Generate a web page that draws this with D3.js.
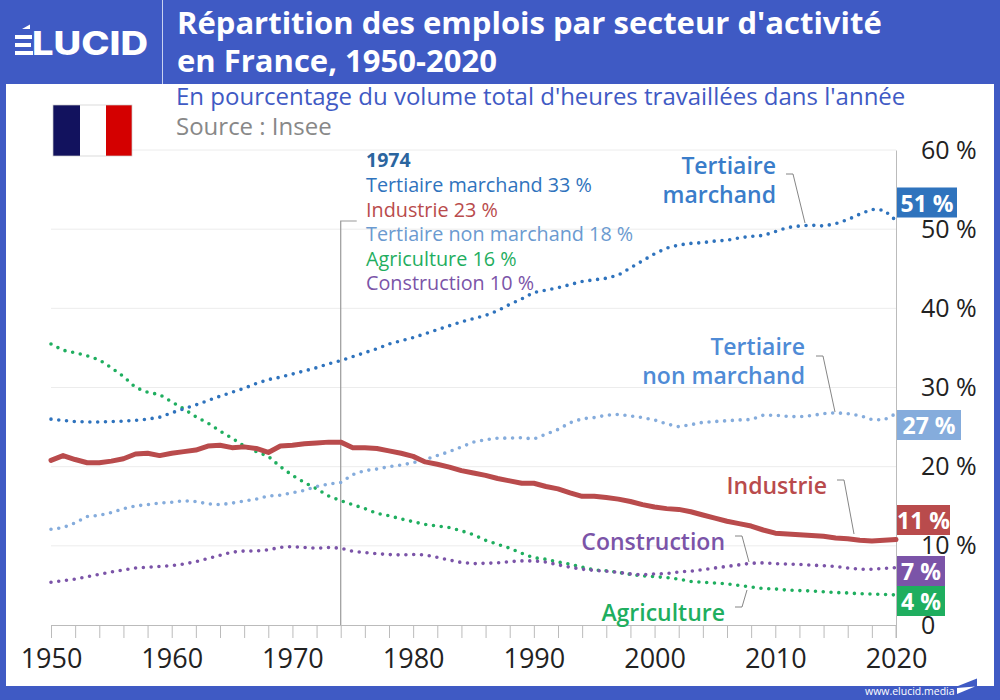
<!DOCTYPE html>
<html>
<head>
<meta charset="utf-8">
<script src="https://cdn.jsdelivr.net/npm/d3@7"></script>
<style>
body { margin: 0; background: #fff; }
svg { display: block; font-family: "Open Sans", sans-serif; }
</style>
</head>
<body>
<div id="chart"></div>
<script>
var firstYear = 1950;

var tertiaireMarchand = [26.0, 25.85, 25.7, 25.65, 25.65, 25.7, 25.75, 25.85, 26.0, 26.25,
    26.8, 27.3, 27.8, 28.35, 28.9, 29.4, 29.9, 30.5, 31.0, 31.3,
    31.7, 32.1, 32.5, 33.0, 33.4, 33.9, 34.4, 34.9, 35.5, 35.9,
    36.3, 36.8, 37.3, 37.8, 38.3, 38.7, 39.1, 39.7, 40.5, 41.2,
    42.0, 42.3, 42.6, 43.0, 43.4, 43.6, 43.8, 44.2, 45.1, 46.0,
    46.9, 47.6, 48.0, 48.2, 48.3, 48.5, 48.6, 48.9, 49.1, 49.2,
    49.7, 50.2, 50.4, 50.5, 50.4, 50.7, 51.2, 51.9, 52.5, 52.4, 51.1];

var industrie = [20.8, 21.4, 20.9, 20.5, 20.5, 20.7, 21.0, 21.6, 21.7, 21.4,
    21.7, 21.9, 22.1, 22.6, 22.7, 22.4, 22.5, 22.3, 21.8, 22.6,
    22.7, 22.9, 23.0, 23.1, 23.1, 22.4, 22.4, 22.3, 22.0, 21.7,
    21.3, 20.6, 20.3, 19.95, 19.5, 19.2, 18.9, 18.5, 18.2, 17.9,
    17.9, 17.5, 17.2, 16.7, 16.25, 16.25, 16.1, 15.9, 15.6, 15.2,
    14.9, 14.7, 14.6, 14.3, 13.9, 13.5, 13.1, 12.8, 12.5, 12.0,
    11.6, 11.5, 11.4, 11.3, 11.2, 11.0, 10.9, 10.7, 10.6, 10.7, 10.8];

var tertiaireNonMarchand = [12.1, 12.3, 12.9, 13.7, 13.85, 14.2, 14.7, 15.05, 15.2, 15.4,
    15.5, 15.7, 15.6, 15.3, 15.2, 15.4, 15.65, 15.9, 16.3, 16.4,
    16.7, 17.0, 17.5, 17.8, 18.0, 19.0, 19.5, 19.7, 20.0, 20.2,
    20.5, 20.9, 21.4, 21.9, 22.5, 23.1, 23.4, 23.6, 23.6, 23.65,
    23.5, 24.1, 24.7, 25.55, 26.05, 26.2, 26.5, 26.6, 26.4, 26.2,
    25.9, 25.4, 25.05, 25.3, 25.6, 25.7, 25.8, 25.9, 25.95, 26.5,
    26.5, 26.35, 26.3, 26.45, 26.7, 26.8, 26.7, 26.45, 25.95, 25.9, 26.7];

var agriculture = [35.5, 34.7, 34.4, 34.0, 33.5, 32.5, 31.4, 30.0, 29.4, 29.1,
    28.2, 27.3, 26.3, 25.5, 24.5, 23.6, 22.6, 21.9, 21.3, 20.0,
    18.9, 18.0, 17.2, 16.3, 15.7, 15.2, 14.7, 14.1, 13.8, 13.4,
    13.05, 12.7, 12.5, 12.3, 11.9, 11.4, 10.7, 10.2, 9.7, 9.05,
    8.5, 8.3, 7.95, 7.7, 7.3, 6.95, 6.85, 6.65, 6.4, 6.2,
    6.1, 6.0, 5.8, 5.5, 5.4, 5.3, 5.2, 5.0, 4.8, 4.6,
    4.55, 4.4, 4.35, 4.3, 4.2, 4.1, 4.05, 3.95, 3.9, 3.85, 3.8];

var construction = [5.4, 5.6, 5.8, 6.1, 6.4, 6.7, 6.95, 7.2, 7.3, 7.4,
    7.5, 7.7, 8.0, 8.4, 8.8, 9.2, 9.35, 9.35, 9.5, 9.8,
    9.9, 9.8, 9.7, 9.8, 9.7, 9.3, 9.15, 9.0, 8.9, 8.85,
    8.9, 8.85, 8.55, 8.2, 7.9, 7.75, 7.8, 7.85, 8.0, 8.1,
    8.1, 7.95, 7.6, 7.3, 7.05, 6.9, 6.8, 6.65, 6.45, 6.35,
    6.45, 6.5, 6.7, 6.8, 7.0, 7.2, 7.4, 7.6, 7.8, 7.85,
    7.75, 7.7, 7.65, 7.55, 7.5, 7.4, 7.2, 7.05, 7.05, 7.15, 7.25];

var xTickLabels = [1950, 1960, 1970, 1980, 1990, 2000, 2010, 2020];
var yTicks = [0, 10, 20, 30, 40, 50, 60];
var legendYear = 1974;
var legendRows = ["Tertiaire marchand 33 %", "Industrie 23 %", "Tertiaire non marchand 18 %", "Agriculture 16 %", "Construction 10 %"];
var endLabels = ["51 %", "27 %", "11 %", "7 %", "4 %"];

var blue = "#2f73bd", blueText = "#3a7dca", lightBlue = "#85acdc", lightBlueText = "#4f8bd6",
    red = "#b94b4c", green = "#1fae5f", purple = "#7b54a8", frame = "#3f5ac4";

var w = 1000, h = 700;
var svg = d3.select("#chart").append("svg").attr("width", w).attr("height", h);

// frame
svg.append("rect").attr("width", w).attr("height", 84).attr("fill", frame);
svg.append("rect").attr("y", 84).attr("width", 6).attr("height", h - 84).attr("fill", frame);
svg.append("rect").attr("x", 994).attr("y", 84).attr("width", 6).attr("height", h - 84).attr("fill", frame);
svg.append("rect").attr("y", 686).attr("width", w).attr("height", 14).attr("fill", frame);
svg.append("line").attr("x1", 162.5).attr("x2", 162.5).attr("y1", 0).attr("y2", 84).attr("stroke", "#c9d2f0").attr("stroke-width", 1);

// logo
var logo = svg.append("g").attr("fill", "#fff");
logo.append("path").attr("d", "M15 35H32V39H15ZM15 43H31V47H15ZM15 51H33V55H15ZM22 29L30 24.500V29Z");
logo.append("text").attr("x", 32).attr("y", 55).attr("font-size", 32).attr("font-weight", 800)
    .attr("font-family", "Inter, sans-serif")
    .attr("textLength", 116).attr("lengthAdjust", "spacingAndGlyphs").text("LUCID");

function text(x, y, str, size, color, weight, anchor) {
    return svg.append("text").attr("x", x).attr("y", y).attr("font-size", size)
        .attr("fill", color).attr("font-weight", weight || 400)
        .attr("text-anchor", anchor || "start").text(str);
}

text(177, 34, "Répartition des emplois par secteur d'activité", 31, "#fff", 700);
text(177, 72, "en France, 1950-2020", 31, "#fff", 700);
text(176, 105, "En pourcentage du volume total d'heures travaillées dans l'année", 24, frame);
text(176, 135, "Source : Insee", 24, "#888");

var x = d3.scaleLinear().domain([1950, 2020]).range([51, 896]);
var y = d3.scaleLinear().domain([0, 60]).range([625, 150]);

// grid
svg.append("g").selectAll("line").data(yTicks.slice(1)).enter().append("line")
    .attr("x1", x(1950)).attr("x2", x(2020))
    .attr("y1", function (d) { return y(d); }).attr("y2", function (d) { return y(d); })
    .attr("stroke", "#ececec").attr("stroke-width", 1);

// flag sits on top of the 60 % grid line
var flag = svg.append("g");
flag.append("rect").attr("x", 30).attr("y", 100).attr("width", 102).attr("height", 60).attr("fill", "#fff");
flag.append("rect").attr("x", 53).attr("y", 105).attr("width", 27).attr("height", 51).attr("fill", "#12125e");
flag.append("rect").attr("x", 80).attr("y", 105).attr("width", 26).attr("height", 51).attr("fill", "#fff");
flag.append("rect").attr("x", 106).attr("y", 105).attr("width", 26).attr("height", 51).attr("fill", "#d40000");
flag.append("rect").attr("x", 53).attr("y", 105).attr("width", 79).attr("height", 51).attr("fill", "none").attr("stroke", "#ccc").attr("stroke-width", 0.7);

// axes
var xAxis = d3.axisBottom(x).tickValues(d3.range(1950, 2021, 2)).tickSize(13).tickPadding(11)
    .tickFormat(function (d) { return xTickLabels.indexOf(d) >= 0 ? d : ""; });
var gx = svg.append("g").attr("transform", "translate(0," + y(0) + ")").call(xAxis);
gx.selectAll(".domain").attr("stroke", "#bbb");
gx.selectAll("line").attr("stroke", "#bbb");
gx.selectAll("text").attr("font-size", 27).attr("fill", "#222").attr("font-family", "Open Sans, sans-serif");

var yAxis = d3.axisRight(y).tickValues(yTicks).tickSize(0).tickPadding(25)
    .tickFormat(function (d) { return d ? d + " %" : "0"; });
var gy = svg.append("g").attr("transform", "translate(" + x(2020) + ",0)").call(yAxis);
gy.selectAll(".domain").attr("stroke", "#bbb");
gy.selectAll("text").attr("font-size", 25).attr("fill", "#222").attr("font-family", "Open Sans, sans-serif");
svg.append("line").attr("x1", x(2020)).attr("x2", x(2020)).attr("y1", y(0)).attr("y2", y(0) + 13).attr("stroke", "#bbb");

// 1974 marker
svg.append("path").attr("d", d3.line()([[x(legendYear) + 16, 221], [x(legendYear), 221], [x(legendYear), y(0)]]))
    .attr("fill", "none").attr("stroke", "#999").attr("stroke-width", 1.2);

// series
var line = d3.line()
    .x(function (d, i) { return x(firstYear + i); })
    .y(function (d) { return y(d); });

var series = [
    { values: agriculture, color: green, width: 3.6, dash: "0 7.8" },
    { values: construction, color: purple, width: 3.6, dash: "0 7.8" },
    { values: tertiaireNonMarchand, color: lightBlue, width: 3.6, dash: "0 7.8" },
    { values: tertiaireMarchand, color: blue, width: 3.6, dash: "0 7.8" },
    { values: industrie, color: red, width: 5, dash: null }
];

svg.append("g").selectAll("path").data(series).enter().append("path")
    .attr("d", function (d) { return line(d.values); })
    .attr("fill", "none")
    .attr("stroke", function (d) { return d.color; })
    .attr("stroke-width", function (d) { return d.width; })
    .attr("stroke-linecap", "round")
    .attr("stroke-linejoin", "round")
    .attr("stroke-dasharray", function (d) { return d.dash; });

// 1974 legend
text(366, 167, legendYear, 19.5, "#2b659f", 700);
var legendColors = [blue, red, "#6b9ad0", green, purple];
legendRows.forEach(function (r, i) {
    text(366, 192 + i * 24.6, r, 19.8, legendColors[i]);
});

// direct labels
text(776, 174, "Tertiaire", 23, blueText, 600, "end");
text(776, 203, "marchand", 23, blueText, 600, "end");
text(805, 355, "Tertiaire", 23, lightBlueText, 600, "end");
text(805, 384, "non marchand", 23, lightBlueText, 600, "end");
text(827, 494, "Industrie", 23, red, 600, "end");
text(725, 550, "Construction", 23, purple, 600, "end");
text(725, 621, "Agriculture", 23, green, 600, "end");

// leaders
var leaders = [
    [[786, 174], [793, 174], [805, 223]],
    [[816, 356], [823, 356], [835, 412]],
    [[837, 480], [844, 480], [854, 534]],
    [[735, 536], [742, 536], [749, 562]],
    [[735, 607], [742, 607], [747, 590]]
];
svg.append("g").selectAll("path").data(leaders).enter().append("path")
    .attr("d", d3.line())
    .attr("fill", "none").attr("stroke", "#777").attr("stroke-width", 0.9);

// end value boxes
var boxes = [
    { x: 897, y: 187.500, w: 60, color: blue },
    { x: 897, y: 410, w: 64, color: lightBlue },
    { x: 897, y: 505, w: 53, color: red },
    { x: 897, y: 556, w: 48, color: purple },
    { x: 897, y: 586, w: 48, color: green }
];
boxes.forEach(function (b, i) {
    svg.append("rect").attr("x", b.x).attr("y", b.y).attr("width", b.w).attr("height", 30).attr("fill", b.color);
    text(b.x + b.w / 2, b.y + 24, endLabels[i], 23, "#fff", 700, "middle");
});

// footer
text(865, 695, "www.elucid.media", 10.500, "#fff");
svg.append("path").attr("d", "M958 686L977 678.500V686Z").attr("fill", frame);
svg.append("path").attr("d", "M957 688L975 686.500L957 694Z").attr("fill", "#fff");
</script>
</body>
</html>
